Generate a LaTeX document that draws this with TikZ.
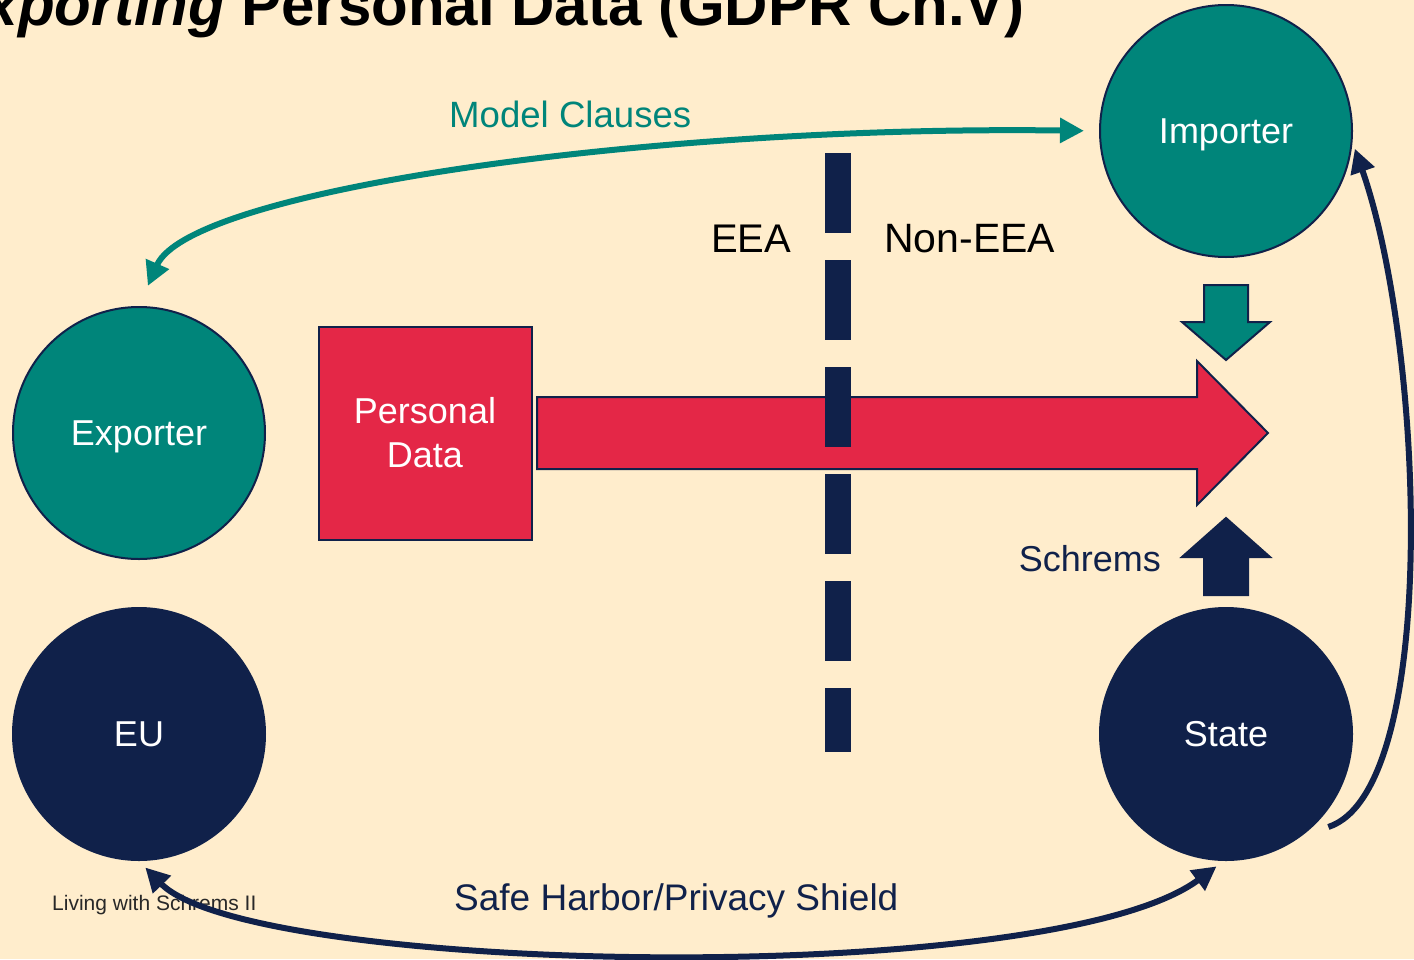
\documentclass[tikz,border=0pt]{standalone}
\usepackage{fontspec}
\setmainfont{Liberation Sans}
\usetikzlibrary{arrows.meta}
\definecolor{bg}{RGB}{255,237,204}
\definecolor{tealc}{RGB}{0,133,122}
\definecolor{navy}{RGB}{16,33,74}
\definecolor{redc}{RGB}{228,39,71}
\definecolor{footc}{RGB}{40,40,40}
\begin{document}
\begin{tikzpicture}[x=1pt,y=-1pt,
  circ/.style={circle,draw=navy,line width=2pt,minimum size=252pt,inner sep=0pt,
    text=white,font=\fontsize{36}{40}\selectfont,text depth=0pt},
  lbl/.style={font=\fontsize{36}{40}\selectfont,inner sep=0pt,anchor=base west},
  blockarrow/.style={draw=navy,line width=2pt,line join=miter},
  conn/.style={line width=6pt},
  twohead/.style={{Triangle[length=24pt,width=24pt]}-{Triangle[length=24pt,width=24pt]}},
  onehead/.style={-{Triangle[length=24pt,width=24pt]}}]
\fill[bg] (0,0) rectangle (1414,959);
\useasboundingbox (0,0) rectangle (1414,959);

% title (cropped at the top and left, as in the reference)
\node[anchor=base east,inner sep=0pt,font=\fontsize{60}{66}\selectfont\bfseries] (title) at (1025,25)
  {\itshape Exporting \upshape Personal Data (GDPR Ch.V)};

% footer
\node[anchor=base west,inner sep=0pt,font=\fontsize{21}{24}\selectfont,text=footc] (footer) at (52,910)
  {Living with Schrems II};

% circles
\node[circ,fill=tealc] (importer) at (1226,131) {Importer};
\node[circ,fill=tealc] (exporter) at (139,433) {Exporter};
\node[circ,fill=navy] (eu) at (139,734) {EU};
\node[circ,fill=navy] (state) at (1226,734) {State};

% personal data box
\node[draw=navy,line width=2pt,fill=redc,minimum size=213pt,inner sep=0pt,text=white,
  align=center,font=\fontsize{36}{44}\selectfont] (pdata) at (425,433) {Personal\\Data};

% big red arrow
\draw[blockarrow,fill=redc] (537,397) -- (1197,397) -- (1197,361) -- (1268,433)
  -- (1197,505) -- (1197,469) -- (537,469) -- cycle;

% EEA border (dashed)
\draw[navy,line width=26pt,dash pattern=on 80pt off 27pt] (838,153) -- (838,752);

% small block arrows
\draw[blockarrow,fill=tealc] (1204,285) -- (1248,285) -- (1248,322) -- (1270,322)
  -- (1226,360) -- (1182,322) -- (1204,322) -- cycle;
\draw[blockarrow,fill=navy] (1226,518) -- (1270,557) -- (1248,557) -- (1248,595)
  -- (1204,595) -- (1204,557) -- (1182,557) -- cycle;

% labels
\node[lbl,font=\fontsize{40}{44}\selectfont] (eea) at (711,252) {EEA};
\node[lbl,font=\fontsize{41}{44}\selectfont] (noneea) at (884,252) {Non-EEA};
\node[lbl,text=tealc,font=\fontsize{36.6}{40}\selectfont] (model) at (449,127) {Model Clauses};
\node[lbl,text=navy,anchor=base east] (schrems) at (1161,571) {Schrems};
\node[lbl,text=navy,font=\fontsize{37}{40}\selectfont] (safe) at (454,910) {Safe Harbor/Privacy Shield};

% connectors
\draw[conn,tealc,twohead,shorten <=15pt,shorten >=22pt]
  (importer.west) .. controls (650,125) and (190,190) .. (exporter.north);
\draw[conn,navy,onehead,shorten >=7pt]
  ([shift={(8,8)}]state.-42) .. controls (1440,790) and (1425,350) .. (importer.-5);
\draw[conn,navy,twohead,shorten <=9pt,shorten >=9pt]
  (eu.south) .. controls (250,975) and (1050,990) .. (state.-91);
\end{tikzpicture}
\end{document}
